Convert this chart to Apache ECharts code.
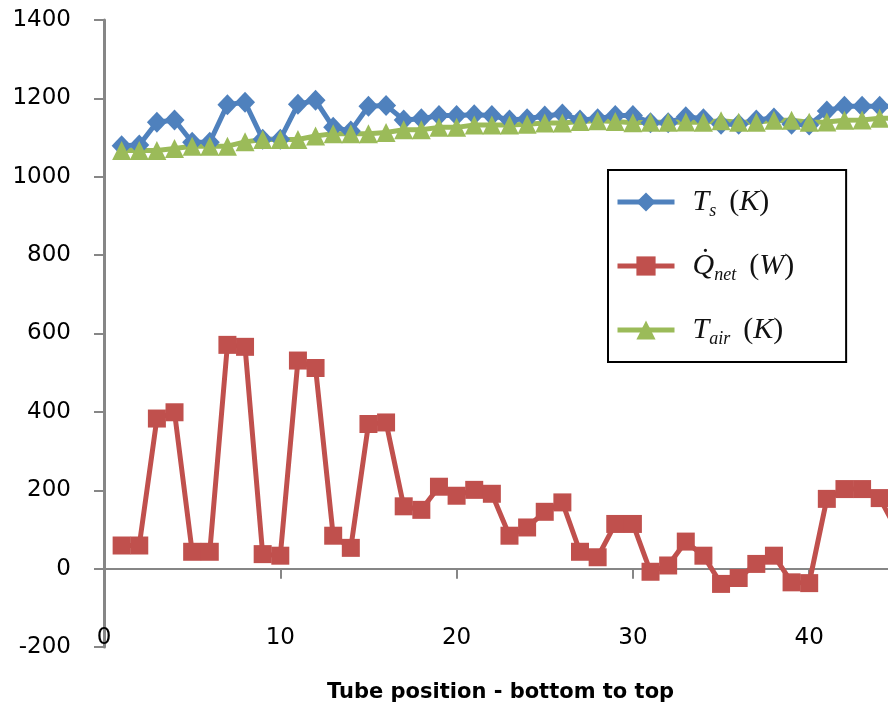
<!DOCTYPE html>
<html>
<head>
<meta charset="utf-8">
<script src="https://cdn.jsdelivr.net/npm/echarts@6/dist/echarts.min.js"></script>
<style>html,body{margin:0;padding:0;background:#fff;}#c{width:888px;height:715px;}</style>
</head>
<body>
<div id="c"></div>
<script>
const positions = [1,2,3,4,5,6,7,8,9,10,11,12,13,14,15,16,17,18,19,20,21,22,23,24,25,26,27,28,29,30,31,32,33,34,35,36,37,38,39,40,41,42,43,44,45];
const tsK = [1079,1081,1139,1145,1088,1088,1184,1190,1096,1096,1185,1195,1126,1117,1180,1182,1145,1148,1156,1156,1158,1156,1145,1148,1155,1160,1145,1148,1156,1156,1138,1138,1153,1148,1134,1134,1145,1150,1134,1132,1168,1180,1180,1180,1180];
const qNetW = [59,59,383,399,43,43,571,566,37,33,531,512,84,53,369,373,159,150,209,186,201,191,84,105,145,169,43,29,114,114,-8,8,69,33,-39,-24,12,33,-35,-37,178,203,203,180,95];
const tAirK = [1067,1067,1067,1072,1078,1078,1078,1089,1095,1095,1095,1104,1110,1110,1110,1113,1120,1120,1126,1126,1132,1132,1132,1134,1137,1137,1141,1143,1141,1138,1139,1139,1140,1139,1143,1139,1139,1144,1144,1139,1140,1144,1145,1149,1149];
const yTicks = [-200,0,200,400,600,800,1000,1200,1400];
const xTicks = [0,10,20,30,40];
const xVisibleMax = 44.47;
const seriesNames = ['Ts','Qnet','Tair'];

const chart = echarts.init(document.getElementById('c'));
const pair = a => positions.map((x,i)=>[x,a[i]]);
const serif = 'Liberation Serif';
chart.setOption({
  animation:false,
  backgroundColor:'#fff',
  title:{text:'Tube position - bottom to top',left:322,top:677,
    textStyle:{fontFamily:'DejaVu Sans',fontWeight:'bold',fontSize:21,color:'#000'}},
  grid:{left:104,top:20,bottom:68,right:0,containLabel:false},
  xAxis:{type:'value',min:xTicks[0],max:xVisibleMax,interval:10,
    axisLine:{show:true,onZero:true,lineStyle:{color:'#868686',width:2}},
    axisTick:{show:true,inside:false,length:10,lineStyle:{color:'#868686',width:2}},
    axisLabel:{margin:-20,showMaxLabel:false,fontFamily:'DejaVu Sans',fontSize:23,color:'#000',
      formatter:v=>String(v)},
    splitLine:{show:false}},
  yAxis:{type:'value',min:yTicks[0],max:yTicks[yTicks.length-1],interval:200,
    axisLine:{show:true,lineStyle:{color:'#868686',width:3}},
    axisTick:{show:true,length:10,lineStyle:{color:'#868686',width:2}},
    axisLabel:{margin:33,fontFamily:'DejaVu Sans',fontSize:23,color:'#000',formatter:v=>String(v)},
    splitLine:{show:false}},
  legend:{
    data:seriesNames,orient:'vertical',left:608,top:170,
    backgroundColor:'#fff',borderColor:'#000',borderWidth:2,borderRadius:0,
    padding:[14,52,14,7],itemGap:28,itemWidth:57,itemHeight:24,
    lineStyle:{width:5},
    formatter:function(n){
      if(n==='Ts') return '{i|T}{sub|s}{sp| }{p|(}{i|K}{p|)}';
      if(n==='Qnet') return '{i|Q\u0307}{sub|net}{sp| }{p|(}{i|W}{p|)}';
      return '{i|T}{sub|air}{sp| }{p|(}{i|K}{p|)}';
    },
    textStyle:{padding:[0,0,0,13],
      rich:{
        i:{fontFamily:serif,fontStyle:'italic',fontSize:30,color:'#111',lineHeight:36},
        p:{fontFamily:serif,fontSize:30,color:'#111',lineHeight:36},
        sp:{fontSize:20,width:13},
        sub:{fontFamily:serif,fontStyle:'italic',fontSize:18,color:'#111',lineHeight:36,padding:[18,0,0,0]}
      }}
  },
  series:[
    {name:'Ts',type:'line',data:pair(tsK),symbol:'diamond',symbolSize:[20,21],
      lineStyle:{color:'#4F81BD',width:5},itemStyle:{color:'#4F81BD'}},
    {name:'Qnet',type:'line',data:pair(qNetW),symbol:'rect',symbolSize:18,
      lineStyle:{color:'#C0504D',width:5},itemStyle:{color:'#C0504D'}},
    {name:'Tair',type:'line',data:pair(tAirK),symbol:'triangle',symbolSize:[19,19],
      lineStyle:{color:'#9BBB59',width:5},itemStyle:{color:'#9BBB59'}}
  ]
});
</script>
</body>
</html>
